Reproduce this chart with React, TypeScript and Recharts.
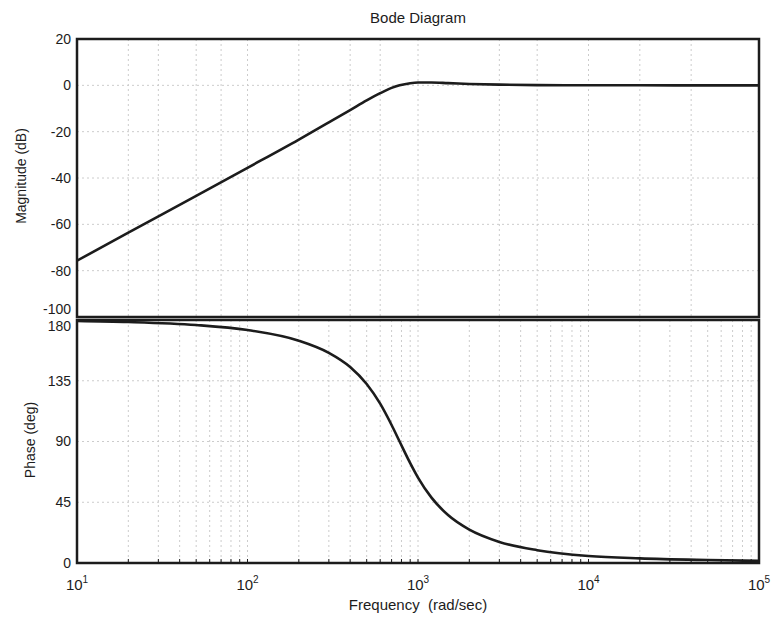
import React from 'react';
import { LineChart, Line, XAxis, YAxis, CartesianGrid, ReferenceArea } from 'recharts';

// Frequency response samples (rad/sec) of a second-order high-pass section
const frequency = [10, 20, 50, 100, 200, 300, 400, 500, 600, 700, 780, 900, 1000, 1200, 1500, 2000, 3000, 5000, 10000, 20000, 50000, 100000];
const magnitudeDb = [-75.7, -63.6, -47.7, -35.6, -23.4, -16.0, -10.7, -6.5, -3.4, -1.1, 0, 0.9, 1.2, 1.2, 0.95, 0.6, 0.3, 0.1, 0.03, 0.01, 0, 0];
const phaseDeg = [179.3, 178.5, 176.3, 172.6, 164.7, 155.7, 145.2, 132.6, 118.0, 102.2, 90, 74.0, 63.3, 48.4, 35.5, 24.7, 15.6, 9.5, 5.2, 3.4, 2.2, 1.6];

// Axis ticks
const decades = [10, 100, 1000, 10000, 100000];
const decadeExponents = ['1', '2', '3', '4', '5'];
const magnitudeTicks = [-100, -80, -60, -40, -20, 0, 20];
const phaseTicks = [0, 45, 90, 135, 180];

const frequencyTicks: number[] = [];
decades.forEach((d, i) => {
  if (i < decades.length - 1) {
    for (let m = 1; m < 10; m++) frequencyTicks.push(d * m);
  } else {
    frequencyTicks.push(d);
  }
});

const magnitudeData = frequency.map((f, i) => ({ f, v: magnitudeDb[i] }));
const phaseData = frequency.map((f, i) => ({ f, v: phaseDeg[i] }));

const FONT = '"Liberation Sans", Arial, Helvetica, sans-serif';
const INK = '#1c1c1c';
const GRID = '#cccccc';
const W = 774;
const H = 618;

const tickDown = (props: any) => (
  <line x1={props.x} x2={props.x} y1={props.y} y2={props.y + 4} stroke={INK} strokeWidth={1} />
);
const tickUp = (props: any) => (
  <line x1={props.x} x2={props.x} y1={props.y} y2={props.y - 4} stroke={INK} strokeWidth={1} />
);

const FrequencyTick = (props: any) => {
  const { x, y, payload } = props;
  const k = decades.indexOf(payload.value);
  return (
    <g>
      <line x1={x} x2={x} y1={y} y2={y - 4} stroke={INK} strokeWidth={1} />
      {k >= 0 && (
        <text x={x} y={y + 27} textAnchor="middle" fontFamily={FONT} fontSize={15} fill={INK}>
          10
          <tspan dy={-7} fontSize={10}>{decadeExponents[k]}</tspan>
        </text>
      )}
    </g>
  );
};

// Where the two panels meet, the bottom label of the upper panel sits a little
// higher and the top label of the lower panel a little lower so they stack.
const makeValueTick = (nudge: Record<string, number>) => (props: any) => {
  const { x, y, payload } = props;
  const dy = nudge[String(payload.value)] || 0;
  return (
    <text x={x} y={y + dy} dy="0.35em" textAnchor="end" fontFamily={FONT} fontSize={14} fill={INK}>
      {payload.value}
    </text>
  );
};
const magnitudeTick = makeValueTick({ '-100': -8 });
const phaseTick = makeValueTick({ '180': 6 });

const textStyle: React.CSSProperties = {
  position: 'absolute',
  fontFamily: FONT,
  color: INK,
  whiteSpace: 'pre',
  lineHeight: 1,
};

export default function App() {
  return (
    <div style={{ position: 'absolute', left: 0, top: 0, width: W, height: H, background: '#fff', overflow: 'hidden' }}>
      {/* Magnitude panel */}
      <div style={{ position: 'absolute', left: 0, top: 0 }}>
        <LineChart width={W} height={322} data={magnitudeData} margin={{ top: 39, right: 15, bottom: 5, left: 17 }}>
          <CartesianGrid stroke={GRID} strokeDasharray="2 3" />
          <XAxis
            dataKey="f"
            type="number"
            scale="log"
            domain={[10, 100000]}
            ticks={frequencyTicks}
            allowDataOverflow
            height={0}
            axisLine={false}
            tickLine={false}
            tickSize={0}
            tickMargin={0}
            tick={tickUp}
          />
          <XAxis
            xAxisId="top"
            orientation="top"
            dataKey="f"
            type="number"
            scale="log"
            domain={[10, 100000]}
            ticks={frequencyTicks}
            allowDataOverflow
            height={0}
            axisLine={false}
            tickLine={false}
            tickSize={0}
            tickMargin={0}
            tick={tickDown}
          />
          <YAxis
            type="number"
            domain={[-100, 20]}
            ticks={magnitudeTicks}
            width={60}
            axisLine={false}
            tickLine={false}
            tickSize={0}
            tickMargin={6}
            tick={magnitudeTick}
            interval={0}
          />
          <ReferenceArea x1={10} x2={100000} y1={-100} y2={20} fill="#fff" fillOpacity={0} stroke={INK} strokeWidth={2.5} />
          <Line type="monotone" dataKey="v" stroke={INK} strokeWidth={2.6} dot={false} isAnimationActive={false} />
        </LineChart>
      </div>

      {/* Phase panel */}
      <div style={{ position: 'absolute', left: 0, top: 0 }}>
        <LineChart width={W} height={H} data={phaseData} margin={{ top: 320, right: 15, bottom: 5, left: 17 }}>
          <CartesianGrid stroke={GRID} strokeDasharray="2 3" />
          <XAxis
            dataKey="f"
            type="number"
            scale="log"
            domain={[10, 100000]}
            ticks={frequencyTicks}
            allowDataOverflow
            height={50}
            axisLine={false}
            tickLine={false}
            tickSize={0}
            tickMargin={0}
            tick={FrequencyTick}
            interval={0}
          />
          <XAxis
            xAxisId="top"
            orientation="top"
            dataKey="f"
            type="number"
            scale="log"
            domain={[10, 100000]}
            ticks={frequencyTicks}
            allowDataOverflow
            height={0}
            axisLine={false}
            tickLine={false}
            tickSize={0}
            tickMargin={0}
            tick={tickDown}
          />
          <YAxis
            type="number"
            domain={[0, 180]}
            ticks={phaseTicks}
            width={60}
            axisLine={false}
            tickLine={false}
            tickSize={0}
            tickMargin={6}
            tick={phaseTick}
            interval={0}
          />
          <ReferenceArea x1={10} x2={100000} y1={0} y2={180} fill="#fff" fillOpacity={0} stroke={INK} strokeWidth={2.5} />
          <Line type="monotone" dataKey="v" stroke={INK} strokeWidth={2.6} dot={false} isAnimationActive={false} />
        </LineChart>
      </div>

      {/* Titles and axis labels */}
      <div style={{ ...textStyle, left: 77, width: 682, top: 10, fontSize: 15, textAlign: 'center' }}>Bode Diagram</div>
      <div style={{ ...textStyle, left: 77, width: 682, top: 597, fontSize: 15, textAlign: 'center' }}>Frequency  (rad/sec)</div>
      <div style={{ ...textStyle, left: 21, top: 176, fontSize: 14, transform: 'translate(-50%, -50%) rotate(-90deg)' }}>Magnitude (dB)</div>
      <div style={{ ...textStyle, left: 30, top: 440, fontSize: 14, transform: 'translate(-50%, -50%) rotate(-90deg)' }}>Phase (deg)</div>
    </div>
  );
}
